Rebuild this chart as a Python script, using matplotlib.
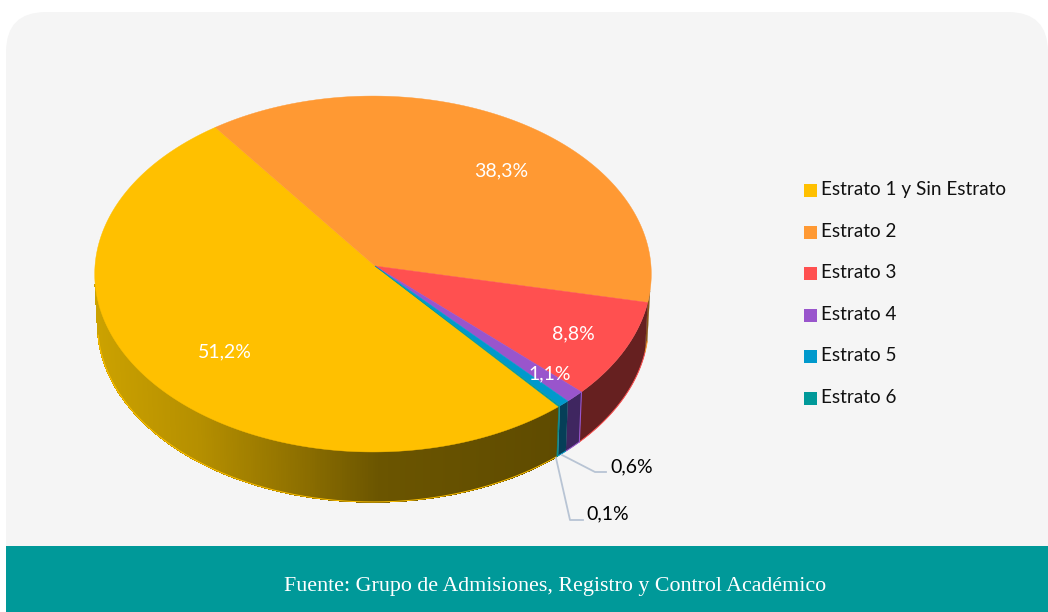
import numpy as np
import matplotlib
matplotlib.use("Agg")
import matplotlib.pyplot as plt
from matplotlib.patches import Polygon, FancyBboxPatch, Rectangle
from matplotlib.colors import to_rgb

categories = ["Estrato 1 y Sin Estrato", "Estrato 2", "Estrato 3", "Estrato 4", "Estrato 5", "Estrato 6"]
shares = [51.2, 38.3, 8.8, 1.1, 0.6, 0.1]
share_labels = ["51,2%", "38,3%", "8,8%", "1,1%", "0,6%", "0,1%"]
colors = ["#FFC000", "#FF9933", "#FF5050", "#9955CC", "#0099CC", "#009999"]
wall_colors = ["#5F4B00", "#8A5518", "#662020", "#3F2660", "#063F58", "#0A8A90"]
source_text = "Fuente: Grupo de Admisiones, Registro y Control Académico"

W, H = 1048, 612
plt.rcParams['font.family'] = ['Lato', 'DejaVu Sans']
fig = plt.figure(figsize=(W / 100, H / 100), dpi=100, facecolor="white")
ax = fig.add_axes([0, 0, 1, 1])
ax.set_xlim(0, W)
ax.set_ylim(H, 0)
ax.axis("off")

# panel
ax.add_patch(FancyBboxPatch((6, 12), 1042, 580, boxstyle="round,pad=0,rounding_size=40",
                            fc="#F5F5F5", ec="none", zorder=1))
ax.add_patch(Rectangle((6, 546), 1042, 66, fc="#009999", ec="none", zorder=2))

# perspective projection of the pie disc
K = 0.045
def project(u, v, drop=0.0, shrink=1.0):
    d = 1 + K * v
    x = 373 + shrink * 278 * u / d + 2 * (1 - u * u - v * v)
    y = 266 - 177.6 * v / d + drop
    return x, y

DEPTH = 50
SHRINK = 0.99
WALL_FROM, WALL_TO = 186, 352
start = 126 + shares[0] / sum(shares) * 360  # clockwise from the yellow slice's far edge
edges = start - np.cumsum([0] + shares) / sum(shares) * 360

def yellow_grad(x):
    xs = [95, 200, 290, 380, 560]
    cs = np.array([to_rgb(c) for c in ["#CCA200", "#B58F00", "#927300", "#6B5500", "#5F4B00"]])
    return tuple(np.interp(x, xs, cs[:, i]) for i in range(3))

# side wall
for i, (a0, a1) in enumerate(zip(edges[:-1], edges[1:])):
    hi, lo = a0 % 360, a1 % 360
    if hi <= lo:
        hi += 360
    for shift in (0, 360):
        l = max(lo + shift, WALL_FROM)
        h = min(hi + shift, WALL_TO)
        if h <= l:
            continue
        steps = max(2, int((h - l) * 2))
        t = np.radians(np.linspace(l, h, steps + 1))
        tx, ty = project(np.cos(t), np.sin(t))
        bx, by = project(np.cos(t), np.sin(t), DEPTH, SHRINK)
        if i == 0:
            for j in range(steps):
                fc = yellow_grad((tx[j] + tx[j + 1]) / 2)
                ax.add_patch(Polygon([(tx[j], ty[j]), (tx[j + 1], ty[j + 1]),
                                      (bx[j + 1], by[j + 1]), (bx[j], by[j])], closed=True,
                                     fc=fc, ec=fc, lw=0.5, antialiased=False, zorder=3))
        else:
            pts = list(zip(tx, ty)) + list(zip(bx[::-1], by[::-1]))
            ax.add_patch(Polygon(pts, closed=True, fc=wall_colors[i], ec=wall_colors[i], lw=0.2, zorder=3))
        ax.plot(bx, by, color=colors[i], lw=0.7, zorder=3.5, solid_capstyle="butt")
        if i == 3:
            ax.plot([tx[-1], bx[-1]], [ty[-1], by[-1]], color=colors[i], lw=0.8, zorder=3.6)

# top disc
for i, (a0, a1) in enumerate(zip(edges[:-1], edges[1:])):
    t = np.radians(np.linspace(a0, a1, max(3, int(abs(a0 - a1) * 2))))
    px, py = project(np.cos(t), np.sin(t))
    cx, cy = project(0.0, 0.0)
    pts = [(cx, cy)] + list(zip(px, py))
    ax.add_patch(Polygon(pts, closed=True, fc=colors[i], ec=colors[i], lw=0.3, zorder=4))

# inside labels
label_pos = [(225, 352), (501, 171), (573, 334), (550, 374)]
for lab, (x, y) in zip(share_labels[:4], label_pos):
    ax.text(x, y, lab, color="white", fontsize=14, ha="center", va="center", zorder=6)

# leader lines and outside labels
ax.plot([562, 595, 606], [455, 472, 472], color="#B8C4D4", lw=1.3, zorder=5)
ax.plot([556, 570, 583], [458, 520, 520], color="#B8C4D4", lw=1.3, zorder=5)
ax.text(610, 467, share_labels[4], color="black", fontsize=14, ha="left", va="center", zorder=6)
ax.text(586, 514, share_labels[5], color="black", fontsize=14, ha="left", va="center", zorder=6)

# legend
legend_y = [190, 232, 273, 315, 356, 398]
for name, c, y in zip(categories, colors, legend_y):
    ax.add_patch(Rectangle((804, y - 6.5), 13, 13.5, fc=c, ec="none", zorder=5))
    ax.text(821, y - 0.5, name, color="#111111", fontsize=13.6, ha="left", va="center", zorder=6)

ax.text(555, 587, source_text, color="white", fontsize=15.8, ha="center", va="center",
        family=["Liberation Serif", "DejaVu Serif"], zorder=6)

fig.savefig("out.png", dpi=100, facecolor="white")
